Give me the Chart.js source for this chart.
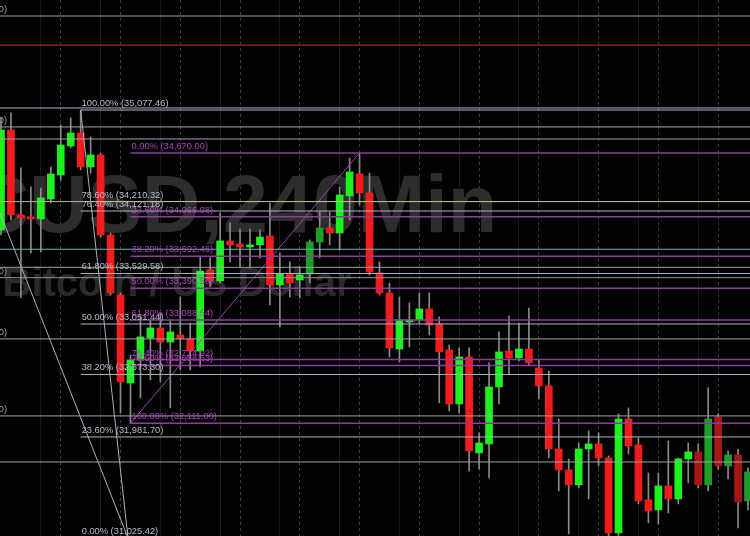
<!DOCTYPE html>
<html>
<head>
<meta charset="utf-8">
<script src="https://cdn.jsdelivr.net/npm/chart.js@4.4.1/dist/chart.umd.min.js"></script>
<style>
  html, body { margin: 0; padding: 0; background: #000; overflow: hidden; }
</style>
</head>
<body>
<canvas id="chart" width="750" height="536"></canvas>
<script>
'use strict';

// BTCUSD 240 min candles, left to right
const opens  = [33942,34888,34084,34065,34046,34235,34462,34737,34860,34538,34652,33894,33326,32493,32711,32919,33014,32881,32948,32910,
                32796,33563,33459,33838,33809,33781,33800,33885,33421,33525,33468,33525,33828,33961,33913,34264,34472,34292,33535,33345,
                32815,33071,33090,33194,33052,32806,32294,32739,31831,31916,32455,32796,32730,32815,32635,32465,31868,31670,31528,31868,
                31916,31783,31073,32152,31906,31386,31291,31518,31395,31774,31840,31528,32171,31707,31812,31376];
const highs  = [35002,35050,34529,34349,34339,34538,34936,35002,35077,34822,34670,33913,33345,32758,33118,33090,33156,33090,33307,33061,
                33686,33677,34103,34008,33951,33951,33942,34197,33724,33639,33591,33847,34112,34112,34349,34623,34670,34481,33639,33440,
                33307,33251,33345,33345,33118,32853,32825,32825,32020,32683,32976,33127,33061,33203,32720,32607,32152,31774,31925,32039,
                32020,31802,32200,32257,31973,31641,31641,31944,31783,31925,31916,32446,32200,31849,31868,31690];
const lows   = [33894,34036,33298,33724,33733,34197,34415,34718,34510,34481,33875,33326,32209,32111,32351,32522,32503,32257,32616,32616,
                32645,33402,33440,33639,33591,33582,33677,33232,33023,33307,33298,33440,33677,33800,33752,34036,34178,33516,33326,32739,
                32692,32834,33061,32948,32304,32228,32209,31660,31679,31594,32294,32578,32701,32654,32342,31783,31471,31064,31499,31395,
                31707,31000,31000,31821,31348,31168,31158,31262,31348,31546,31499,31471,31679,31584,31120,31291];
const closes = [34888,34084,34055,34046,34245,34472,34746,34860,34538,34652,33894,33345,32503,32711,32929,33014,32881,32976,32910,32796,
                33553,33459,33838,33800,33781,33800,33875,33421,33525,33440,33516,33828,33961,33913,34273,34491,34292,33544,33345,32825,
                33090,33090,33194,33042,32787,32294,32739,31849,31925,32455,32787,32730,32815,32683,32465,31868,31670,31528,31868,31916,
                31783,31073,32152,31897,31376,31281,31518,31395,31774,31840,31528,32152,31707,31812,31367,31651];
const dimCandles = [31, 32, 70, 71, 72, 73, 74, 75];

// horizontal lines drawn from the left edge
const hLinePrices = [35967.5, 35693, 35097, 34917, 34803, 34210.32, 33759, 33588, 33490, 32910, 32181, 31745];
const hLineTags   = ['(35,967.50)', '', '', '(34,917.00)', '', '', '', '', '(33,490.00)', '(32,910.00)', '(32,181.00)', ''];
const hLineColors = ['#9ea2a9', '#8e1f1f', '#a9b3c6', '#9ea2a9', '#9ea2a9', '#b7b78a', '#6cb2c6', '#9ea2a9', '#8f9399', '#9ea2a9', '#9ea2a9', '#9ea2a9'];

// fib retracement 1 (high 35,077.46 -> low)
const fibALevels = ['100.00%', '78.60%', '76.40%', '61.80%', '50.00%', '38.20%', '23.60%', '0.00%'];
const fibAPrices = [35077.46, 34210.32, 34121.18, 33529.58, 33051.44, 32573.30, 31981.70, 31025.42];
const fibAStart = 8;

// fib retracement 2 (low 32,111 -> high 34,670)
const fibBLevels = ['0.00%', '23.60%', '38.20%', '50.00%', '61.80%', '76.40%', '78.60%', '100.00%'];
const fibBPrices = [34670.00, 34066.08, 33692.46, 33390.50, 33088.54, 32714.92, 32658.63, 32111.00];
const fibBStart = 13;

// trend lines of the two fib tools
const trendA = [{x: 8, y: 35077.46}, {x: 12.75, y: 31025.42}];
const trendA2 = [{x: -0.1, y: 34103}, {x: 12.75, y: 31025.42}];
const trendB = [{x: 13, y: 32111.00}, {x: 36, y: 34670.00}];

const X_MIN = -0.1, X_MAX = 75.2;
const Y_MIN = 31044, Y_MAX = 36119;

const idx = opens.map((_, i) => i);

function bodyColor(i) {
    const up = closes[i] >= opens[i];
    if (dimCandles.includes(i)) return up ? '#1f9e27' : '#a81616';
    return up ? '#1ef21e' : '#f21c1c';
}

function fmt(v) {
    return v.toLocaleString('en-US', {minimumFractionDigits: 2, maximumFractionDigits: 2});
}

function hline(x0, price, color, width) {
    return {
        type: 'line',
        data: [{x: x0, y: price}, {x: X_MAX, y: price}],
        borderColor: color,
        borderWidth: width,
        pointRadius: 0,
        tension: 0,
        fill: false,
        order: 0
    };
}

function segment(points, color, width) {
    return {
        type: 'line',
        data: points,
        borderColor: color,
        borderWidth: width,
        pointRadius: 0,
        tension: 0,
        fill: false,
        order: 0
    };
}

const datasets = [];
hLinePrices.forEach((p, k) => datasets.push(hline(X_MIN, p, hLineColors[k], k === 1 ? 1.5 : 1)));
fibAPrices.forEach((p, k) => datasets.push(hline(fibAStart, p, k === 1 ? '#b7b78a' : '#aab4c7', 1)));
fibBPrices.forEach(p => datasets.push(hline(fibBStart, p, '#8d3c9c', 1.5)));
datasets.push(segment(trendA, '#a9b0bd', 1));
datasets.push(segment(trendA2, '#a9b0bd', 1));
datasets.push(segment(trendB, '#a040b0', 1));

// wicks then bodies
datasets.push({
    type: 'bar',
    data: idx.map(i => ({x: i, y: [lows[i], highs[i]]})),
    backgroundColor: '#8a8a8a',
    barThickness: 1,
    grouped: false,
    order: 2
});
datasets.push({
    type: 'bar',
    data: idx.map(i => ({x: i, y: [opens[i], closes[i]]})),
    backgroundColor: idx.map(bodyColor),
    barThickness: 7,
    minBarLength: 1,
    grouped: false,
    order: 1
});

const decor = {
    id: 'decor',
    beforeDraw(chart) {
        const ctx = chart.ctx;
        ctx.save();
        ctx.fillStyle = '#020202';
        ctx.fillRect(0, 0, chart.width, chart.height);
        ctx.restore();
    },
    beforeDatasetsDraw(chart) {
        const ctx = chart.ctx;
        ctx.save();
        ctx.textAlign = 'center';
        ctx.textBaseline = 'alphabetic';
        ctx.fillStyle = '#2d2d2d';
        ctx.font = 'bold 81px "Liberation Sans", Arial, sans-serif';
        ctx.fillText('BTCUSD,240Min', 180, 232);
        ctx.fillStyle = '#2a2a2a';
        ctx.font = 'bold 40px "Liberation Sans", Arial, sans-serif';
        ctx.fillText('Bitcoin / US Dollar', 177, 296);
        ctx.restore();
    },
    afterDatasetsDraw(chart) {
        const ctx = chart.ctx;
        const xs = chart.scales.x, ys = chart.scales.y;
        ctx.save();
        ctx.font = '9.3px "Liberation Sans", Arial, sans-serif';
        ctx.textBaseline = 'alphabetic';

        ctx.textAlign = 'left';
        ctx.fillStyle = '#b4bccb';
        fibAPrices.forEach((p, k) => {
            ctx.fillText(fibALevels[k] + ' (' + fmt(p) + ')', xs.getPixelForValue(fibAStart) + 1, ys.getPixelForValue(p) - 4);
        });
        ctx.fillStyle = '#b23ec2';
        fibBPrices.forEach((p, k) => {
            ctx.fillText(fibBLevels[k] + ' (' + fmt(p) + ')', xs.getPixelForValue(fibBStart) + 1, ys.getPixelForValue(p) - 4);
        });

        // labels of the left lines, mostly cut off by the edge
        ctx.textAlign = 'right';
        hLinePrices.forEach((p, k) => {
            if (!hLineTags[k]) return;
            ctx.fillStyle = hLineColors[k];
            ctx.fillText(hLineTags[k], 7, ys.getPixelForValue(p) - 4);
        });
        ctx.restore();
    }
};

new Chart(document.getElementById('chart'), {
    type: 'bar',
    data: {datasets: datasets},
    options: {
        responsive: false,
        animation: false,
        events: [],
        layout: {padding: 0},
        plugins: {legend: {display: false}, tooltip: {enabled: false}},
        scales: {
            x: {
                type: 'linear',
                min: X_MIN,
                max: X_MAX,
                offset: false,
                ticks: {display: false, stepSize: 1, maxTicksLimit: 200, autoSkip: false},
                grid: {
                    drawTicks: false,
                    offset: false,
                    color: c => {
                        const v = c.tick ? c.tick.value : 0.5;
                        if (v % 6 === 0) return '#3a3a3a';
                        if (v % 6 === 4) return '#1a1a1a';
                        return 'rgba(0,0,0,0)';
                    }
                },
                border: {
                    display: false,
                    dash: c => (c.tick && c.tick.value % 6 === 0) ? [3, 3] : []
                }
            },
            y: {
                min: Y_MIN,
                max: Y_MAX,
                ticks: {display: false, stepSize: 500, maxTicksLimit: 50},
                grid: {
                    drawTicks: false,
                    color: c => (c.tick && c.tick.value % 500 === 0) ? '#161616' : 'rgba(0,0,0,0)'
                },
                border: {display: false}
            }
        }
    },
    plugins: [decor]
});
</script>
</body>
</html>
